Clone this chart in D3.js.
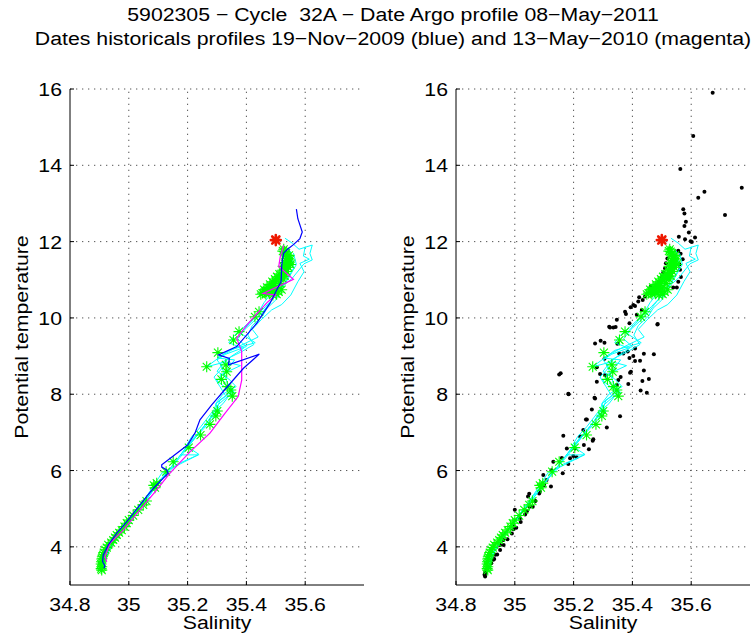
<!DOCTYPE html>
<html>
<head>
<meta charset="utf-8">
<script src="https://cdn.jsdelivr.net/npm/d3@7"></script>
<style>
  html, body { margin: 0; padding: 0; background: #fff; }
  svg { display: block; }
  text { font-family: "Liberation Sans", Arial, Helvetica, sans-serif; fill: #000; white-space: pre; }
</style>
</head>
<body>
<svg id="chart" width="754" height="641"></svg>
<script>
// ---- text ----
const titleLines = [
  "5902305 \u2212 Cycle  32A \u2212 Date Argo profile 08\u2212May\u22122011",
  "Dates historicals profiles 19\u2212Nov\u22122009 (blue) and 13\u2212May\u22122010 (magenta)"
];
const xLabel = "Salinity";
const yLabel = "Potential temperature";

// ---- axes ----
const salDomain = [34.8, 35.8];
const tempDomain = [3, 16];
const xTicks = [34.8, 35, 35.2, 35.4, 35.6];
const yTicks = [4, 6, 8, 10, 12, 14, 16];

// ---- Argo float profile (salinity, potential temperature) ----
const argoProfile = [
  [35.527,11.80],[35.530,11.74],[35.535,11.70],[35.533,11.65],[35.538,11.60],[35.542,11.56],
  [35.536,11.50],[35.546,11.46],[35.540,11.42],[35.535,11.38],[35.543,11.33],[35.530,11.28],
  [35.536,11.22],[35.528,11.17],[35.520,11.12],[35.515,11.06],[35.508,11.00],[35.500,10.95],
  [35.495,10.90],[35.490,10.85],[35.485,10.80],[35.478,10.76],[35.470,10.72],[35.462,10.68],
  [35.455,10.65],[35.466,10.63],[35.480,10.66],[35.495,10.70],[35.510,10.68],[35.503,10.62],
  [35.490,10.60],[35.476,10.70],[35.520,10.74],[35.449,10.62],
  [35.548,11.52],[35.550,11.40],[35.532,11.45],[35.525,11.35],[35.522,11.25],[35.512,11.15],
  [35.504,11.08],[35.497,11.02],[35.488,10.95],[35.480,10.88],[35.470,10.80],[35.460,10.74],
  [35.500,10.78],[35.515,10.90],[35.525,11.02],[35.530,11.10],[35.545,11.64],[35.524,11.75],
  [35.443,10.16],[35.429,10.03],[35.375,9.64],[35.356,9.42],[35.303,9.09],[35.265,8.72],
  [35.330,8.77],[35.333,8.59],[35.315,8.39],[35.335,8.20],[35.347,8.11],[35.352,7.95],
  [35.301,7.56],[35.296,7.43],[35.276,7.21],[35.244,6.93],[35.204,6.60],[35.151,6.23],
  [35.127,5.97],[35.095,5.67],[35.089,5.55],[35.085,5.61],
  [35.060,5.20],[35.049,5.10],[35.032,4.97],[35.015,4.82],[35.000,4.70],[34.993,4.62],
  [34.985,4.53],[34.976,4.44],[34.967,4.37],[34.959,4.31],[34.953,4.24],[34.947,4.18],
  [34.940,4.11],[34.930,4.05],[34.925,3.98],[34.920,3.92],[34.915,3.85],[34.913,3.79],
  [34.910,3.74],[34.908,3.68],[34.907,3.61],[34.906,3.55],[34.908,3.48],[34.906,3.43],
  [34.908,3.39]
];
// first point of the Argo profile, highlighted
const argoTop = [[35.500,12.04]];

// ---- historical profiles ----
const histBlue = [
  [35.570,12.85],[35.575,12.60],[35.590,12.25],[35.582,12.08],[35.560,11.92],[35.540,11.80],
  [35.527,11.70],[35.522,11.50],[35.520,11.34],[35.518,10.95],[35.503,10.73],[35.480,10.38],
  [35.457,10.12],[35.435,9.86],[35.367,9.25],[35.305,9.03],[35.342,8.94],[35.339,8.77],
  [35.444,9.05],[35.390,8.68],[35.330,8.15],[35.282,7.72],[35.242,7.33],[35.225,6.98],
  [35.200,6.67],[35.112,6.15],[35.112,6.09],[35.128,6.02],[35.134,5.93],[35.083,5.53],
  [35.038,5.10],[34.993,4.66],[34.959,4.36],[34.930,4.05],[34.913,3.79],[34.911,3.61],
  [34.919,3.50],[34.915,3.44]
];
const histMagenta = [
  [35.527,11.90],[35.515,11.60],[35.510,11.35],[35.560,11.01],[35.457,10.64],[35.500,10.60],
  [35.470,10.40],[35.446,10.20],[35.400,9.80],[35.367,9.47],[35.384,9.12],[35.384,8.37],
  [35.372,7.94],[35.327,7.50],[35.276,6.98],[35.208,6.49],[35.140,5.93],[35.090,5.45],
  [35.038,4.97],[34.981,4.44],[34.936,4.09],[34.919,3.74],[34.925,3.61]
];
const histCyan1 = [
  [35.531,12.09],[35.556,11.96],[35.579,11.80],[35.624,11.91],[35.616,11.69],[35.624,11.52],
  [35.596,11.42],[35.556,11.04],[35.520,10.80],[35.500,10.47],[35.470,10.25],[35.455,10.05],
  [35.420,9.80],[35.405,9.55],[35.425,9.30],[35.380,9.10],[35.340,8.95],[35.310,8.80],
  [35.325,8.55],[35.335,8.30],[35.355,8.10],[35.310,7.85],[35.300,7.60],[35.285,7.35],
  [35.255,7.10],[35.225,6.85],[35.200,6.60],[35.175,6.35],[35.140,6.05],[35.100,5.70],
  [35.060,5.30],[35.020,4.90],[34.985,4.52],[34.955,4.20],[34.930,3.90],[34.915,3.65],
  [34.912,3.48]
];
const histCyan2 = [
  [35.600,11.87],[35.594,11.62],[35.614,11.54],[35.582,11.43],[35.596,11.21],[35.575,10.95],
  [35.551,10.60],[35.520,10.35],[35.486,10.21],[35.450,9.95],[35.420,9.70],[35.440,9.50],
  [35.360,9.20],[35.300,8.95],[35.360,8.90],[35.330,8.60],[35.300,8.35],[35.350,8.05],
  [35.320,7.75],[35.290,7.55],[35.270,7.30],[35.240,7.00],[35.215,6.75],[35.175,6.41],
  [35.236,6.41],[35.112,5.93],[35.080,5.55],[35.045,5.15],[35.005,4.75],[34.970,4.40],
  [34.945,4.10],[34.925,3.80],[34.917,3.58],[34.915,3.45]
];
const histCyan3 = [
  [35.545,11.80],[35.555,11.55],[35.560,11.30],[35.545,11.10],[35.530,10.90],[35.515,10.70],
  [35.490,10.50],[35.465,10.30],[35.440,10.10],[35.410,9.85],[35.380,9.60],[35.430,9.35],
  [35.340,9.15],[35.265,8.72],[35.330,8.85],[35.380,8.75],[35.310,8.50],[35.330,8.25],
  [35.360,8.05],[35.330,7.90],[35.300,7.70],[35.285,7.45],[35.260,7.20],[35.235,6.95],
  [35.205,6.70],[35.180,6.45],[35.150,6.15],[35.115,5.80],[35.075,5.40],[35.035,5.00],
  [34.998,4.62],[34.965,4.30],[34.938,3.98],[34.920,3.70],[34.914,3.52]
];
const histCyan4 = [
  [35.560,11.70],[35.570,11.40],[35.555,11.20],[35.540,11.00],[35.510,10.75],[35.495,10.55],
  [35.475,10.35],[35.455,10.15],[35.430,9.95],[35.395,9.70],[35.370,9.45],[35.400,9.25],
  [35.330,9.05],[35.300,8.90],[35.320,8.70],[35.290,8.45],[35.310,8.20],[35.330,7.95],
  [35.295,7.75],[35.310,7.55],[35.275,7.35],[35.250,7.10],[35.220,6.85],[35.190,6.55],
  [35.160,6.25],[35.125,5.90],[35.090,5.55],[35.050,5.15],[35.010,4.78],[34.975,4.45],
  [34.948,4.15],[34.928,3.85],[34.917,3.62],[34.914,3.46]
];
const histCyan5 = [
  [35.550,11.75],[35.545,11.45],[35.530,11.20],[35.520,11.00],[35.500,10.80],[35.480,10.60],
  [35.460,10.40],[35.445,10.20],[35.425,10.00],[35.390,9.75],[35.360,9.55],[35.340,9.35],
  [35.390,9.20],[35.350,9.00],[35.320,8.80],[35.300,8.60],[35.340,8.40],[35.365,8.20],
  [35.320,8.00],[35.300,7.80],[35.290,7.60],[35.270,7.40],[35.245,7.15],[35.215,6.90],
  [35.195,6.65],[35.239,6.42],[35.160,6.15],[35.120,5.85],[35.085,5.50],[35.048,5.12],
  [35.012,4.76],[34.978,4.43],[34.950,4.13],[34.930,3.86],[34.918,3.63],[34.916,3.47]
];
const cyanProfiles = [histCyan1, histCyan2, histCyan3, histCyan4, histCyan5];

// ---- climatology points in the neighbourhood (right panel) ----
const climPoints = [
  [35.673,15.90],[35.607,14.77],[35.563,13.90],[35.645,13.31],[35.772,13.41],[35.624,13.15],
  [35.715,12.70],[35.573,12.85],[35.577,12.74],[35.582,12.52],[35.577,12.41],[35.592,12.24],
  [35.558,12.13],[35.613,12.11],[35.579,12.06],[35.602,11.99],[35.598,12.01],
  [35.526,11.80],[35.534,11.69],[35.556,11.76],[35.564,11.68],[35.571,11.54],[35.562,11.26],
  [35.565,11.07],[35.556,10.95],[35.539,10.80],[35.551,10.80],[35.560,11.40],
  [35.519,11.56],[35.514,11.43],[35.511,11.30],[35.505,11.19],[35.500,11.07],[35.492,10.95],
  [35.483,10.82],[35.460,10.69],[35.443,10.56],[35.435,10.47],[35.420,10.43],[35.409,10.31],
  [35.394,10.28],[35.415,10.08],[35.432,10.21],[35.485,9.83],[35.462,10.82],
  [35.423,10.54],[35.403,10.34],[35.375,10.16],[35.378,10.10],[35.347,9.95],[35.324,9.75],
  [35.335,9.75],[35.343,9.76],[35.321,9.77],[35.390,9.86],[35.486,9.84],[35.273,9.33],
  [35.292,9.40],[35.305,9.35],[35.409,9.20],[35.439,9.06],[35.473,9.05],[35.403,9.00],
  [35.390,8.95],[35.305,8.93],[35.279,8.71],[35.151,8.52],[35.395,8.59],[35.439,8.62],
  [35.456,8.40],[35.434,8.35],[35.279,8.33],[35.360,8.45],[35.428,8.10],[35.449,8.04],
  [35.183,8.00],[35.271,7.91],[35.262,7.60],[35.358,7.42],[35.245,7.34],[35.165,6.91],
  [35.233,7.06],[35.267,6.82],[35.177,6.58],[35.210,6.35],[35.160,6.33],
  [35.349,9.32],[35.355,9.07],[35.369,9.07],[35.384,9.12],[35.426,8.88],[35.409,8.87],
  [35.290,8.53],[35.307,8.50],[35.392,8.56],[35.352,8.37],[35.347,8.24],[35.386,8.27],
  [35.273,7.89],[35.242,7.34],[35.313,7.13],[35.222,6.89],[35.235,6.67],[35.252,6.56],
  [35.205,6.58],[35.199,6.38],[35.188,6.32],[35.156,8.55],[35.182,8.01],[35.265,6.78],
  [35.131,6.23],[35.182,6.17],[35.163,5.93],[35.125,6.01],[35.097,5.88],[35.108,5.75],
  [35.123,5.58],[35.049,5.39],[35.045,5.32],[35.083,5.40],[35.061,5.05],[35.000,4.97],
  [35.041,4.93],[35.018,4.75],[34.995,4.57],[34.995,4.46],[34.961,4.18],[34.950,4.05],
  [34.933,3.79],[34.927,3.66],[34.899,3.31],[34.899,3.22],
  [35.050,5.05],[35.035,4.85],[35.020,4.65],[35.005,4.50],[34.990,4.35],[34.975,4.20],
  [34.962,4.05],[34.950,3.92],[34.940,3.80],[34.930,3.68],[34.920,3.57],[34.910,3.47],
  [34.905,3.40],[34.900,3.35],[34.897,3.27],[35.070,5.20],[35.085,5.45],[35.100,5.62]
];

// ---- layout ----
const svg = d3.select("#chart");
const plotTop = 89, plotBottom = 585, plotWidth = 294;
const panelLeft = [70, 456];
const fontSize = 19, stretch = 1.12;

function label(str, x, y, anchor, rotate) {
  svg.append("text")
    .attr("transform", `translate(${x},${y}) rotate(${rotate || 0}) scale(${stretch},1)`)
    .attr("text-anchor", anchor)
    .attr("xml:space", "preserve")
    .style("font-size", fontSize + "px")
    .text(str);
}

// title
label(titleLines[0], 393, 21, "middle");
label(titleLines[1], 393, 45, "middle");

const asterisk = r => {
  const k = r * 0.72;
  return `M${-r},0L${r},0M0,${-r}L0,${r}M${-k},${-k}L${k},${k}M${-k},${k}L${k},${-k}`;
};

function panel(x0, withCurves, withClim) {
  const x = d3.scaleLinear().domain(salDomain).range([x0, x0 + plotWidth]);
  const y = d3.scaleLinear().domain(tempDomain).range([plotBottom, plotTop]);
  const g = svg.append("g");

  // dotted grid
  g.selectAll(".gx").data(xTicks.filter(t => t !== salDomain[0])).join("line")
    .attr("x1", d => x(d)).attr("x2", d => x(d))
    .attr("y1", y(tempDomain[0])).attr("y2", y(tempDomain[1]))
    .attr("stroke", "#555").attr("stroke-width", 1).attr("stroke-dasharray", "1.3,4.7");
  g.selectAll(".gy").data(yTicks).join("line")
    .attr("x1", x(salDomain[0])).attr("x2", x(salDomain[1]))
    .attr("y1", d => y(d)).attr("y2", d => y(d))
    .attr("stroke", "#555").attr("stroke-width", 1).attr("stroke-dasharray", "1.3,4.7");

  const line = d3.line().x(d => x(d[0])).y(d => y(d[1]));

  if (withClim) {
    g.append("g").selectAll("circle").data(climPoints).join("circle")
      .attr("cx", d => x(d[0])).attr("cy", d => y(d[1])).attr("r", 2).attr("fill", "#000");
  }

  g.append("g").selectAll("path").data(cyanProfiles).join("path")
    .attr("d", line).attr("fill", "none").attr("stroke", "#00ffff").attr("stroke-width", 1);

  g.append("g").selectAll("path").data(argoProfile).join("path")
    .attr("transform", d => `translate(${x(d[0])},${y(d[1])})`)
    .attr("d", asterisk(5.5)).attr("fill", "none").attr("stroke", "#00ff00").attr("stroke-width", 1.1);

  if (withCurves) {
    g.append("path").datum(histMagenta).attr("d", line)
      .attr("fill", "none").attr("stroke", "#ff00ff").attr("stroke-width", 1.2);
    g.append("path").datum(histBlue).attr("d", line)
      .attr("fill", "none").attr("stroke", "#0000ff").attr("stroke-width", 1.2);
  }

  g.append("g").selectAll("path").data(argoTop).join("path")
    .attr("transform", d => `translate(${x(d[0])},${y(d[1])})`)
    .attr("d", asterisk(5)).attr("fill", "none").attr("stroke", "#ee1800")
    .attr("stroke-width", 2.6).attr("stroke-linecap", "round");

  // axes
  g.append("line").attr("x1", x0).attr("x2", x0).attr("y1", plotTop).attr("y2", plotBottom)
    .attr("stroke", "#000").attr("stroke-width", 1);
  g.append("line").attr("x1", x0).attr("x2", x0 + plotWidth).attr("y1", plotBottom).attr("y2", plotBottom)
    .attr("stroke", "#000").attr("stroke-width", 1);
  g.selectAll(".tx").data(xTicks).join("line")
    .attr("x1", d => x(d)).attr("x2", d => x(d)).attr("y1", plotBottom).attr("y2", plotBottom - 4)
    .attr("stroke", "#000");
  g.selectAll(".ty").data(yTicks).join("line")
    .attr("x1", x0).attr("x2", x0 + 4).attr("y1", d => y(d)).attr("y2", d => y(d))
    .attr("stroke", "#000");

  xTicks.forEach(t => label(d3.format("")(t), x(t), 611, "middle"));
  yTicks.forEach(t => label(String(t), x0 - 8, y(t) + 7, "end"));

  label(xLabel, x0 + 147, 629, "middle");
  label(yLabel, x0 - 42, (plotTop + plotBottom) / 2, "middle", -90);
}

panel(panelLeft[0], true, false);
panel(panelLeft[1], false, true);
</script>
</body>
</html>
